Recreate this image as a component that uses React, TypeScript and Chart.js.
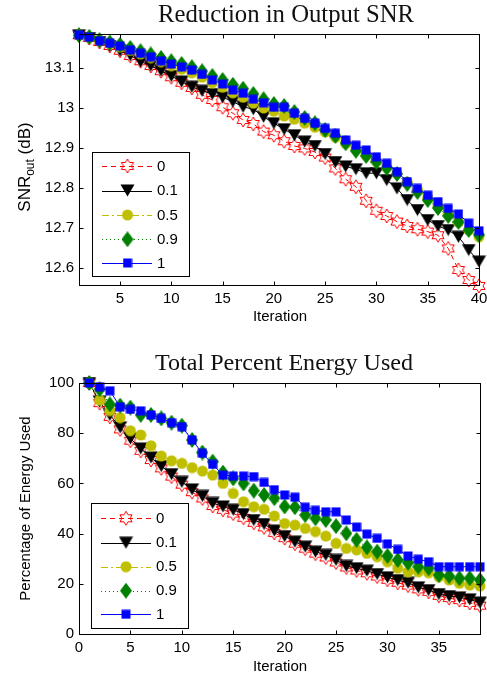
import React, { useEffect, useRef } from 'react';
import { Chart, registerables } from 'chart.js';

Chart.register(...registerables);

// ---------- data ----------
const seriesLabels = ['0', '0.1', '0.5', '0.9', '1'];

const iterSnr = [1, 2, 3, 4, 5, 6, 7, 8, 9, 10, 11, 12, 13, 14, 15, 16, 17, 18, 19, 20, 21, 22, 23, 24, 25, 26, 27, 28, 29, 30, 31, 32, 33, 34, 35, 36, 37, 38, 39, 40];
const iterEnergy = [1, 2, 3, 4, 5, 6, 7, 8, 9, 10, 11, 12, 13, 14, 15, 16, 17, 18, 19, 20, 21, 22, 23, 24, 25, 26, 27, 28, 29, 30, 31, 32, 33, 34, 35, 36, 37, 38, 39];

const snr0 = [13.182, 13.175, 13.165, 13.155, 13.143, 13.130, 13.117, 13.105, 13.092, 13.077, 13.063, 13.050, 13.033, 13.020, 13.002, 12.987, 12.970, 12.960, 12.941, 12.932, 12.917, 12.905, 12.899, 12.890, 12.876, 12.849, 12.822, 12.803, 12.768, 12.743, 12.730, 12.716, 12.705, 12.697, 12.691, 12.682, 12.649, 12.595, 12.570, 12.555];
const snr01 = [13.182, 13.175, 13.165, 13.155, 13.143, 13.132, 13.116, 13.106, 13.093, 13.080, 13.066, 13.053, 13.043, 13.035, 13.027, 13.016, 13.003, 12.997, 12.978, 12.962, 12.947, 12.932, 12.916, 12.905, 12.885, 12.865, 12.854, 12.847, 12.837, 12.837, 12.820, 12.799, 12.770, 12.745, 12.720, 12.705, 12.695, 12.678, 12.645, 12.616];
const snr05 = [13.182, 13.176, 13.168, 13.161, 13.153, 13.144, 13.135, 13.126, 13.116, 13.106, 13.097, 13.088, 13.077, 13.063, 13.052, 13.038, 13.027, 13.012, 13.000, 12.992, 12.980, 12.972, 12.962, 12.952, 12.940, 12.927, 12.912, 12.897, 12.882, 12.868, 12.852, 12.837, 12.815, 12.795, 12.775, 12.755, 12.735, 12.715, 12.695, 12.678];
const snr09 = [13.182, 13.178, 13.170, 13.164, 13.158, 13.150, 13.142, 13.134, 13.125, 13.117, 13.110, 13.102, 13.092, 13.080, 13.070, 13.058, 13.048, 13.035, 13.022, 13.010, 13.005, 12.990, 12.975, 12.962, 12.945, 12.930, 12.912, 12.893, 12.880, 12.865, 12.850, 12.835, 12.810, 12.790, 12.770, 12.750, 12.730, 12.715, 12.695, 12.683];
const snr1 = [13.183, 13.177, 13.168, 13.162, 13.155, 13.145, 13.137, 13.128, 13.118, 13.110, 13.103, 13.095, 13.084, 13.070, 13.060, 13.045, 13.037, 13.022, 13.013, 13.002, 13.002, 12.987, 12.974, 12.962, 12.949, 12.937, 12.920, 12.907, 12.895, 12.878, 12.862, 12.841, 12.816, 12.799, 12.782, 12.766, 12.749, 12.735, 12.712, 12.693];

const energy0 = [100, 92, 86.5, 81.5, 77, 73, 69.3, 66, 62.7, 59.5, 56.5, 54, 51, 49.5, 48, 46.3, 44.3, 42.5, 40.3, 38.2, 36, 34, 32, 30.5, 28.5, 26.5, 25.3, 24.2, 22.9, 21.6, 20.4, 19.3, 17.8, 16.8, 15.2, 14.3, 13.5, 12.4, 11.3];
const energy01 = [100, 92.6, 87.3, 82.3, 77.9, 73.9, 70.3, 66.9, 63.7, 60.6, 57.6, 55, 52.2, 50.8, 49.5, 47.8, 45.4, 43.8, 41.2, 39, 36.8, 34.8, 32.8, 31.5, 29.5, 27.1, 26.2, 25.2, 23.9, 22.6, 21.5, 20.4, 18.6, 17.5, 15.9, 15.1, 14.6, 13.8, 12.5];
const energy05 = [100, 93.2, 89, 86.2, 81, 79.3, 75, 70.9, 69, 68, 66.3, 64.9, 63.3, 60, 56, 52.7, 50.7, 49.7, 47, 44, 43.4, 42.1, 40.8, 39, 36.1, 34.1, 33.5, 32.1, 30.8, 28.8, 26.2, 24.8, 24.8, 24.4, 22.8, 21.5, 20.2, 19.5, 19.1];
const energy09 = [100, 97.5, 91.5, 91, 90.2, 87.3, 87.3, 85.9, 84.2, 83, 77.3, 72.3, 68.7, 64.3, 62, 60, 57.1, 55.4, 54.1, 50.8, 50.5, 47.4, 46.1, 45.4, 43, 40.1, 37.5, 34.5, 32.8, 31.1, 29.5, 28.4, 26.8, 26.2, 23.5, 23.1, 22.2, 22.2, 21.5];
const energy1 = [100, 98.5, 96.9, 90.5, 89.5, 88.9, 87.3, 85.9, 84.2, 82.6, 77.3, 72, 67.6, 63.3, 62.9, 62.9, 62.7, 60.4, 57.5, 55.4, 54.5, 50.5, 49.3, 48.7, 48.7, 45.4, 42.6, 39.8, 38.1, 35.9, 33.7, 31.1, 29.8, 28.8, 26.8, 26.8, 26.8, 26.8, 26.8];

const snrXTicks = [5, 10, 15, 20, 25, 30, 35, 40];
const snrYTicks = [12.6, 12.7, 12.8, 12.9, 13, 13.1];
const energyXTicks = [0, 5, 10, 15, 20, 25, 30, 35];
const energyYTicks = [0, 20, 40, 60, 80, 100];

// ---------- styles ----------
const colors = ['#ff0000', '#000000', '#bfbf00', '#008000', '#0000ff'];
const dashes = [[5, 4], [], [7, 3, 2, 3], [1, 3], []];
const markerKinds = ['hexagram', 'triangle', 'circle', 'diamond', 'square'];
const SANS = '"Liberation Sans", Arial, sans-serif';
const SERIF = '"Liberation Serif", "Times New Roman", serif';
const W = 487;
const H = 338;

function makeMarker(kind: string, color: string): HTMLCanvasElement {
  const c = document.createElement('canvas');
  let w = 12, h = 12;
  if (kind === 'hexagram') { w = 16; h = 16; }
  else if (kind === 'triangle') { w = 15; h = 13; }
  else if (kind === 'circle') { w = 12; h = 12; }
  else if (kind === 'diamond') { w = 12; h = 16; }
  else if (kind === 'square') { w = 10; h = 10; }
  c.width = w; c.height = h;
  const g = c.getContext('2d')!;
  g.fillStyle = color; g.strokeStyle = color; g.lineWidth = 1;
  const cx = w / 2, cy = h / 2;
  g.beginPath();
  if (kind === 'hexagram') {
    const R = 7, r = R / Math.sqrt(3);
    for (let k = 0; k < 12; k++) {
      const ang = -Math.PI / 2 + (k * Math.PI) / 6;
      const rad = k % 2 === 0 ? R : r;
      const px = cx + rad * Math.cos(ang), py = cy + rad * Math.sin(ang);
      if (k === 0) g.moveTo(px, py); else g.lineTo(px, py);
    }
    g.closePath(); g.stroke();
  } else if (kind === 'triangle') {
    g.moveTo(0.5, 0.5); g.lineTo(14.5, 0.5); g.lineTo(7.5, 12.5); g.closePath(); g.fill();
  } else if (kind === 'circle') {
    g.arc(cx, cy, 5.5, 0, Math.PI * 2); g.fill();
  } else if (kind === 'diamond') {
    g.moveTo(6, 0); g.lineTo(12, 8); g.lineTo(6, 16); g.lineTo(0, 8); g.closePath(); g.fill();
  } else {
    g.fillRect(0.5, 0.5, 9, 9);
  }
  return c;
}

type Spec = {
  xs: number[];
  series: number[][];
  xMin: number; xMax: number; yMin: number; yMax: number;
  xTicks: number[]; yTicks: number[];
  fmtY: (v: number) => string;
  area: { left: number; right: number; top: number; bottom: number };
  title: string; titleX: number; titleBase: number; titleWidth: number;
  xLabel: string; xLabelX: number; xLabelBase: number;
  drawYLabel: (ctx: CanvasRenderingContext2D) => void;
  legend: { x: number; y: number; w: number; h: number; rows: number[]; lineX0: number; lineX1: number; markX: number; textX: number };
};

function makeConfig(spec: Spec): any {
  const markers = markerKinds.map((k, i) => makeMarker(k, colors[i]));
  const datasets = spec.series.map((vals, i) => ({
    label: seriesLabels[i],
    data: vals.map((v, j) => ({ x: spec.xs[j], y: v })),
    borderColor: colors[i],
    backgroundColor: colors[i],
    borderWidth: 1,
    borderDash: dashes[i],
    pointStyle: markers[i],
    pointRadius: 6,
    tension: 0,
    clip: false,
    order: 5 - i,
  }));

  const framePlugin = {
    id: 'frame',
    afterDraw(chart: any) {
      const ctx: CanvasRenderingContext2D = chart.ctx;
      const a = chart.chartArea;
      const xs = chart.scales.x, ys = chart.scales.y;
      ctx.save();
      ctx.strokeStyle = '#000';
      ctx.lineWidth = 1;
      ctx.setLineDash([]);
      const L = Math.round(a.left) + 0.5, R = Math.round(a.right) + 0.5;
      const T = Math.round(a.top) + 0.5, B = Math.round(a.bottom) + 0.5;
      ctx.strokeRect(L, T, R - L, B - T);
      const tl = 4;
      ctx.beginPath();
      spec.xTicks.forEach((v) => {
        const px = Math.round(xs.getPixelForValue(v)) + 0.5;
        ctx.moveTo(px, B); ctx.lineTo(px, B - tl);
        ctx.moveTo(px, T); ctx.lineTo(px, T + tl);
      });
      spec.yTicks.forEach((v) => {
        const py = Math.round(ys.getPixelForValue(v)) + 0.5;
        ctx.moveTo(L, py); ctx.lineTo(L + tl, py);
        ctx.moveTo(R, py); ctx.lineTo(R - tl, py);
      });
      ctx.stroke();

      // title
      ctx.fillStyle = '#111';
      ctx.font = `20px ${SERIF}`;
      const mw = ctx.measureText(spec.title).width;
      const fs = (20 * spec.titleWidth) / mw;
      ctx.font = `${fs.toFixed(2)}px ${SERIF}`;
      ctx.textAlign = 'center';
      ctx.textBaseline = 'alphabetic';
      ctx.fillText(spec.title, spec.titleX, spec.titleBase);

      // x label
      ctx.fillStyle = '#000';
      ctx.font = `15px ${SANS}`;
      ctx.fillText(spec.xLabel, spec.xLabelX, spec.xLabelBase);

      // y label
      spec.drawYLabel(ctx);

      // legend
      const lg = spec.legend;
      ctx.fillStyle = '#fff';
      ctx.fillRect(lg.x, lg.y, lg.w, lg.h);
      ctx.strokeStyle = '#000';
      ctx.lineWidth = 1;
      ctx.strokeRect(lg.x + 0.5, lg.y + 0.5, lg.w, lg.h);
      lg.rows.forEach((ry, i) => {
        ctx.save();
        ctx.strokeStyle = colors[i];
        ctx.setLineDash(dashes[i]);
        ctx.beginPath();
        ctx.moveTo(lg.lineX0, Math.round(ry) + 0.5);
        ctx.lineTo(lg.lineX1, Math.round(ry) + 0.5);
        ctx.stroke();
        ctx.restore();
        const m = markers[i];
        ctx.drawImage(m, lg.markX - m.width / 2, ry - m.height / 2);
        ctx.fillStyle = '#000';
        ctx.font = `15px ${SANS}`;
        ctx.textAlign = 'left';
        ctx.textBaseline = 'middle';
        ctx.fillText(seriesLabels[i], lg.textX, ry + 0.5);
      });
      ctx.restore();
    },
  };

  return {
    type: 'line',
    data: { datasets },
    plugins: [framePlugin],
    options: {
      responsive: false,
      animation: false,
      events: [],
      layout: { padding: { left: 0, right: W - spec.area.right, top: spec.area.top, bottom: 0 } },
      plugins: { legend: { display: false }, tooltip: { enabled: false }, title: { display: false } },
      scales: {
        x: {
          type: 'linear',
          min: spec.xMin,
          max: spec.xMax,
          grid: { display: false, drawTicks: false },
          border: { display: false },
          afterBuildTicks: (s: any) => { s.ticks = spec.xTicks.map((v) => ({ value: v })); },
          afterFit: (s: any) => { s.height = H - spec.area.bottom; s.paddingLeft = 0; s.paddingRight = 0; },
          ticks: { autoSkip: false, maxRotation: 0, padding: 5, color: '#000', font: { family: SANS, size: 15 }, callback: (v: any) => String(v) },
        },
        y: {
          type: 'linear',
          min: spec.yMin,
          max: spec.yMax,
          grid: { display: false, drawTicks: false },
          border: { display: false },
          afterBuildTicks: (s: any) => { s.ticks = spec.yTicks.map((v) => ({ value: v })); },
          afterFit: (s: any) => { s.width = spec.area.left; s.paddingTop = 0; s.paddingBottom = 0; },
          ticks: { autoSkip: false, padding: 5, color: '#000', font: { family: SANS, size: 15 }, callback: (v: any) => spec.fmtY(Number(v)) },
        },
      },
    },
  };
}

const snrSpec: Spec = {
  xs: iterSnr,
  series: [snr0, snr01, snr05, snr09, snr1],
  xMin: 1, xMax: 40, yMin: 12.5575, yMax: 13.185,
  xTicks: snrXTicks, yTicks: snrYTicks,
  fmtY: (v) => String(Number(v.toFixed(1))),
  area: { left: 79, right: 479, top: 34, bottom: 285 },
  title: 'Reduction in Output SNR', titleX: 286, titleBase: 21.5, titleWidth: 256,
  xLabel: 'Iteration', xLabelX: 280, xLabelBase: 321,
  drawYLabel: (ctx) => {
    ctx.save();
    ctx.translate(30, 167);
    ctx.rotate(-Math.PI / 2);
    const big = `17px ${SANS}`, small = `12px ${SANS}`;
    ctx.font = big;
    const w1 = ctx.measureText('SNR').width;
    const w3 = ctx.measureText(' (dB)').width;
    ctx.font = small;
    const w2 = ctx.measureText('out').width;
    let x = -(w1 + w2 + w3) / 2;
    ctx.fillStyle = '#000';
    ctx.textAlign = 'left';
    ctx.textBaseline = 'alphabetic';
    ctx.font = big; ctx.fillText('SNR', x, 0); x += w1;
    ctx.font = small; ctx.fillText('out', x, 4); x += w2;
    ctx.font = big; ctx.fillText(' (dB)', x, 0);
    ctx.restore();
  },
  legend: { x: 92, y: 152, w: 97, h: 124, rows: [166, 190.5, 215, 239.3, 263], lineX0: 102, lineX1: 152, markX: 127.5, textX: 157 },
};

const energySpec: Spec = {
  xs: iterEnergy,
  series: [energy0, energy01, energy05, energy09, energy1],
  xMin: 0, xMax: 39, yMin: 0, yMax: 100,
  xTicks: energyXTicks, yTicks: energyYTicks,
  fmtY: (v) => String(v),
  area: { left: 79, right: 480, top: 45, bottom: 296 },
  title: 'Total Percent Energy Used', titleX: 284, titleBase: 32, titleWidth: 258,
  xLabel: 'Iteration', xLabelX: 280, xLabelBase: 332.5,
  drawYLabel: (ctx) => {
    ctx.save();
    ctx.translate(30, 170.5);
    ctx.rotate(-Math.PI / 2);
    ctx.font = `15px ${SANS}`;
    ctx.fillStyle = '#000';
    ctx.textAlign = 'center';
    ctx.textBaseline = 'alphabetic';
    ctx.fillText('Percentage of Energy Used', 0, 0);
    ctx.restore();
  },
  legend: { x: 91, y: 165, w: 97, h: 125, rows: [180.3, 204.7, 228.7, 252.7, 276.3], lineX0: 101, lineX1: 151, markX: 126, textX: 156 },
};

function Plot({ spec }: { spec: Spec }) {
  const ref = useRef<HTMLCanvasElement>(null);
  useEffect(() => {
    const chart = new Chart(ref.current as HTMLCanvasElement, makeConfig(spec));
    return () => chart.destroy();
  }, [spec]);
  return <canvas ref={ref} width={W} height={H} style={{ display: 'block', width: W, height: H }} />;
}

export default function App() {
  return (
    <div style={{ position: 'fixed', left: 0, top: 0, width: W, height: 2 * H, background: '#fff' }}>
      <Plot spec={snrSpec} />
      <Plot spec={energySpec} />
    </div>
  );
}
